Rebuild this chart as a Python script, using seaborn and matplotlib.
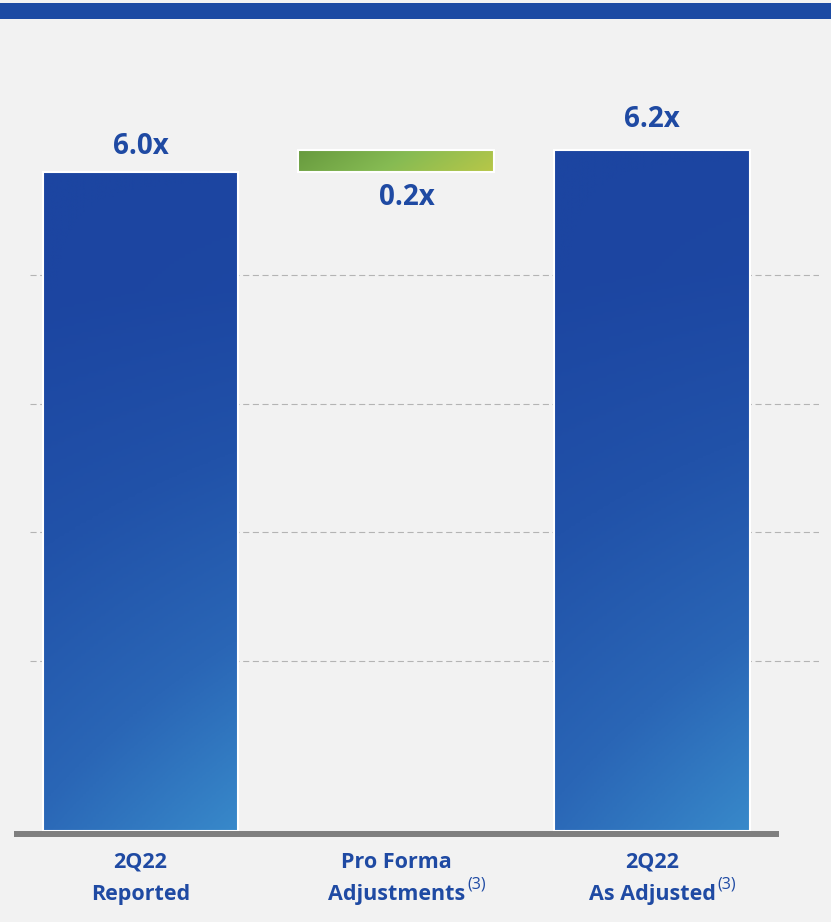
import numpy as np
import pandas as pd
import matplotlib
matplotlib.use("Agg")
import matplotlib.pyplot as plt
import seaborn as sns
from matplotlib.colors import LinearSegmentedColormap
from matplotlib.patches import Rectangle

# ---- data ----
categories = ["2Q22\nReported", "Pro Forma\nAdjustments", "2Q22\nAs Adjusted"]
values = [6.0, 0.2, 6.2]
value_labels = ["6.0x", "0.2x", "6.2x"]
footnotes = ["", "(3)", "(3)"]
grid_levels = [1.548, 2.723, 3.889, 5.064]
# waterfall: adjustment bar floats on top of the reported value
bottoms = [0.0, values[0], 0.0]

# ---- style ----
BG = "#f2f2f2"
TXT = "#1f4aa3"
sns.set_theme(style="white")
plt.rcParams["font.family"] = ["Open Sans", "DejaVu Sans"]

W, H = 831, 922
fig = plt.figure(figsize=(W / 100, H / 100), dpi=100, facecolor=BG)
ax = fig.add_axes([14 / W, 1 - 840 / H, 805 / W, (840 - 19) / H])
ax.set_facecolor(BG)

df = pd.DataFrame({"cat": categories, "val": values})
sns.barplot(data=df, x="cat", y="val", ax=ax, width=0.766, color="#1f4aa3",
            saturation=1, edgecolor="white", linewidth=1.5, zorder=3)

blue_cmap = LinearSegmentedColormap.from_list(
    "blue", ["#1c45a1", "#2152a9", "#2a66b6", "#3889ca"])
green_cmap = LinearSegmentedColormap.from_list(
    "green", ["#679a3e", "#86bb53", "#b8c748"])

n = 200
yy, xx = np.mgrid[0:1:n * 1j, 0:1:n * 1j]  # row 0 = bottom (origin lower)
u = 1 - yy
g_blue = np.clip((u - 0.18) / 0.82, 0, 1) * 0.7 + 0.3 * xx * u
g_green = np.clip(0.85 * xx + 0.15 * (1 - yy), 0, 1)

for i, (p, b) in enumerate(zip(ax.patches, bottoms)):
    p.set_y(b)
    p.set_facecolor("none")
    x0, w = p.get_x(), p.get_width()
    y0, h = p.get_y(), p.get_height()
    if i == 1:
        im = ax.imshow(g_green, cmap=green_cmap, vmin=0, vmax=1, origin="lower",
                       extent=(x0, x0 + w, y0, y0 + h), aspect="auto", zorder=2)
    else:
        im = ax.imshow(g_blue, cmap=blue_cmap, vmin=0, vmax=1, origin="lower",
                       extent=(x0, x0 + w, y0, y0 + h), aspect="auto", zorder=2)
    im.set_clip_path(p)

# gridlines
ax.hlines(grid_levels, -0.432, 2.653, colors="#b4b4b4", linewidth=0.8,
          linestyles=(0, (5.5, 3.2)), zorder=1)
# baseline
ax.plot([-0.4946, 2.497], [-0.027, -0.027], color="#7f7f7f", lw=4.3,
        solid_capstyle="butt", zorder=4, clip_on=False)

ax.set_xlim(-0.4946, 2.653)
ax.set_ylim(-0.082, 7.395)

# value labels
offsets = [(0, 8), (8, -8), (0, 12)]
for i, (lab, v, b) in enumerate(zip(value_labels, values, bottoms)):
    if i == 1:
        ax.annotate(lab, xy=(i, b), xytext=offsets[i], textcoords="offset points",
                    ha="center", va="top", fontsize=20, fontweight="bold", color=TXT)
    else:
        ax.annotate(lab, xy=(i, b + v), xytext=offsets[i], textcoords="offset points",
                    ha="center", va="bottom", fontsize=20, fontweight="bold", color=TXT)

ax.set_xlabel("")
ax.set_ylabel("")
ax.set_yticks([])
ax.tick_params(axis="x", length=0, pad=8.5)
for t in ax.get_xticklabels():
    t.set_fontsize(15.5)
    t.set_fontweight("bold")
    t.set_color(TXT)
    t.set_linespacing(1.72)
for s in ax.spines.values():
    s.set_visible(False)

# superscript footnotes
for t, fn in zip(ax.get_xticklabels(), footnotes):
    if fn:
        ax.annotate(fn, xy=(1, 0), xycoords=t, xytext=(1.5, 12),
                    textcoords="offset points", ha="left", va="baseline",
                    fontsize=11.5, color=TXT)

# top banner
fig.add_artist(Rectangle((0, 1 - 19 / H), 1, 16 / H, transform=fig.transFigure,
                         facecolor="#1c4aa3", edgecolor="none"))

fig.savefig("out.png", dpi=100, facecolor=BG)
